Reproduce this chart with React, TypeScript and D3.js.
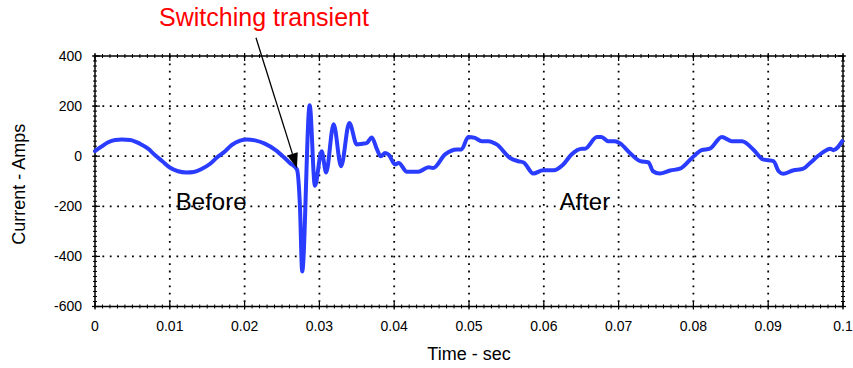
import React from 'react';
import * as d3 from 'd3';

// ---- Data ----
const timeSec: number[] = [
  0.0000, 0.0007, 0.0017, 0.0027, 0.0036, 0.0047, 0.0060, 0.0071, 0.0080, 0.0090,
  0.0100, 0.0111, 0.0122, 0.0132, 0.0143, 0.0154, 0.0163, 0.0174, 0.0183, 0.0194,
  0.0203, 0.0214, 0.0227, 0.0241, 0.0251, 0.0261, 0.0270, 0.0274, 0.0277, 0.0287,
  0.0294, 0.0303, 0.0309, 0.0319, 0.0329, 0.0340, 0.0350, 0.0358, 0.0363, 0.0370,
  0.0377, 0.0382, 0.0388, 0.0393, 0.0401, 0.0406, 0.0417, 0.0432, 0.0446, 0.0452,
  0.0468, 0.0484, 0.0490, 0.0499, 0.0508, 0.0517, 0.0526, 0.0537, 0.0555, 0.0566,
  0.0573, 0.0586, 0.0599, 0.0613, 0.0626, 0.0637, 0.0651, 0.0655, 0.0671, 0.0677,
  0.0686, 0.0695, 0.0702, 0.0715, 0.0729, 0.0740, 0.0746, 0.0755, 0.0769, 0.0782,
  0.0798, 0.0811, 0.0822, 0.0838, 0.0851, 0.0865, 0.0880, 0.0893, 0.0907, 0.0914,
  0.0920, 0.0933, 0.0947, 0.0956, 0.0972, 0.0983, 0.0987, 0.0999,
];
const currentAmps: number[] = [
  20, 35, 55, 65, 67, 65, 50, 30, 5, -20,
  -45, -60, -65, -63, -50, -30, -5, 20, 45, 62,
  67, 63, 50, 25, 0, -28, -53, -200, -460, 203,
  -118, 20, -65, 128, -40, 133, 47, 50, 52, 75,
  27, 0, 13, 5, -33, -27, -62, -62, -44, -47,
  7, 27, 27, 77, 73, 60, 60, 47, -7, -20,
  -25, -69, -56, -56, -33, 7, 30, 30, 77, 77,
  60, 60, 51, 13, -20, -25, -60, -69, -57, -50,
  -7, 24, 30, 77, 60, 60, 27, -13, -20, -60,
  -70, -57, -50, -27, 13, 30, 24, 60,
];

const xTicks: number[] = [0, 0.01, 0.02, 0.03, 0.04, 0.05, 0.06, 0.07, 0.08, 0.09, 0.1];
const xTickLabels: string[] = ['0', '0.01', '0.02', '0.03', '0.04', '0.05', '0.06', '0.07', '0.08', '0.09', '0.1'];
const yTicks: number[] = [400, 200, 0, -200, -400, -600];
const yTickLabels: string[] = ['400', '200', '0', '-200', '-400', '-600'];

const xTitle = 'Time - sec';
const yTitle = 'Current - Amps';
const calloutText = 'Switching transient';
const regionLabels: string[] = ['Before', 'After'];
const regionLabelTimes: number[] = [0.0108, 0.0621];
const regionLabelValue = -215;
const arrowFrom: [number, number] = [0.02152, 473];
const arrowTo: [number, number] = [0.0270, -48];

const W = 853;
const H = 368;
const FONT = "'Liberation Sans', Arial, Helvetica, sans-serif";

export default function App() {
  const x = d3.scaleLinear().domain([0, 0.1]).range([95, 843]);
  const y = d3.scaleLinear().domain([-600, 400]).range([306.5, 56]);

  const [x0, x1] = x.range();
  const [y0, y1] = y.range(); // y0 bottom, y1 top

  const pts: [number, number][] = timeSec.map((t, i) => [t, currentAmps[i]]);
  const line = d3
    .line<[number, number]>()
    .x((d) => x(d[0]))
    .y((d) => y(d[1]))
    .curve(d3.curveMonotoneX);

  const minorX = d3.range(0, 101).map((i) => i / 1000);
  const minorY = d3.range(-600, 401, 20);

  // arrow geometry
  const ax0 = x(arrowFrom[0]);
  const ay0 = y(arrowFrom[1]);
  const ax1 = x(arrowTo[0]);
  const ay1 = y(arrowTo[1]);
  const ang = Math.atan2(ay1 - ay0, ax1 - ax0);
  const headLen = 15;
  const headHalf = 5.5;
  const bx = ax1 - headLen * Math.cos(ang);
  const by = ay1 - headLen * Math.sin(ang);
  const px = -Math.sin(ang) * headHalf;
  const py = Math.cos(ang) * headHalf;

  const grid = { stroke: '#000', strokeWidth: 1.8, strokeDasharray: '1.8 5.6' };

  return (
    <svg
      width={W}
      height={H}
      viewBox={`0 0 ${W} ${H}`}
      style={{ position: 'absolute', left: 0, top: 0, background: '#fff' }}
    >
      <rect x={0} y={0} width={W} height={H} fill="#fff" />
      {/* grid */}
      {xTicks.slice(1, -1).map((t) => (
        <line key={'gx' + t} x1={x(t)} x2={x(t)} y1={y1} y2={y0} {...grid} />
      ))}
      {yTicks.slice(1, -1).map((v) => (
        <line key={'gy' + v} x1={x0} x2={x1} y1={y(v)} y2={y(v)} {...grid} />
      ))}

      {/* minor ticks */}
      {minorX.map((t, i) => (
        <g key={'mx' + i}>
          <line x1={x(t)} x2={x(t)} y1={y0 - 2} y2={y0 + 2} stroke="#000" strokeWidth={1} />
          <line x1={x(t)} x2={x(t)} y1={y1 - 2} y2={y1 + 2} stroke="#000" strokeWidth={1} />
        </g>
      ))}
      {minorY.map((v, i) => (
        <g key={'my' + i}>
          <line x1={x0 - 2} x2={x0 + 2} y1={y(v)} y2={y(v)} stroke="#000" strokeWidth={1} />
          <line x1={x1 - 2} x2={x1 + 2} y1={y(v)} y2={y(v)} stroke="#000" strokeWidth={1} />
        </g>
      ))}
      {/* major ticks */}
      {xTicks.map((t) => (
        <g key={'tx' + t}>
          <line x1={x(t)} x2={x(t)} y1={y0 - 5} y2={y0 + 3} stroke="#000" strokeWidth={1.2} />
          <line x1={x(t)} x2={x(t)} y1={y1 - 3} y2={y1 + 5} stroke="#000" strokeWidth={1.2} />
        </g>
      ))}
      {yTicks.map((v) => (
        <g key={'ty' + v}>
          <line x1={x0 - 3} x2={x0 + 5} y1={y(v)} y2={y(v)} stroke="#000" strokeWidth={1.2} />
          <line x1={x1 - 5} x2={x1 + 3} y1={y(v)} y2={y(v)} stroke="#000" strokeWidth={1.2} />
        </g>
      ))}

      {/* frame */}
      <rect x={x0} y={y1} width={x1 - x0} height={y0 - y1} fill="none" stroke="#000" strokeWidth={1.5} />

      {/* data line */}
      <path
        d={line(pts) || ''}
        fill="none"
        stroke="#2a3cff"
        strokeWidth={4}
        strokeLinejoin="round"
        strokeLinecap="round"
      />

      {/* tick labels */}
      {xTicks.map((t, i) => (
        <text
          key={'lx' + t}
          x={x(t)}
          y={y0 + 24}
          textAnchor="middle"
          fontFamily={FONT}
          fontSize={14}
          fill="#000"
        >
          {xTickLabels[i]}
        </text>
      ))}
      {yTicks.map((v, i) => (
        <text
          key={'ly' + v}
          x={x0 - 13}
          y={y(v)}
          dy="0.35em"
          textAnchor="end"
          fontFamily={FONT}
          fontSize={14}
          fill="#000"
        >
          {yTickLabels[i]}
        </text>
      ))}

      {/* axis titles */}
      <text x={(x0 + x1) / 2} y={360} textAnchor="middle" fontFamily={FONT} fontSize={18} fill="#000">
        {xTitle}
      </text>
      <text
        transform={`translate(25, ${(y0 + y1) / 2 + 3}) rotate(-90)`}
        textAnchor="middle"
        fontFamily={FONT}
        fontSize={18}
        fill="#000"
      >
        {yTitle}
      </text>

      {/* region labels */}
      {regionLabels.map((s, i) => (
        <text
          key={s}
          x={x(regionLabelTimes[i])}
          y={y(regionLabelValue)}
          fontFamily={FONT}
          fontSize={24}
          fill="#000"
        >
          {s}
        </text>
      ))}

      {/* callout */}
      <text x={264} y={26} textAnchor="middle" fontFamily={FONT} fontSize={25} fill="#ff0000">
        {calloutText}
      </text>
      <line x1={ax0} y1={ay0} x2={bx} y2={by} stroke="#000" strokeWidth={1.3} />
      <polygon
        points={`${ax1},${ay1} ${bx + px},${by + py} ${bx - px},${by - py}`}
        fill="#000"
      />
    </svg>
  );
}
